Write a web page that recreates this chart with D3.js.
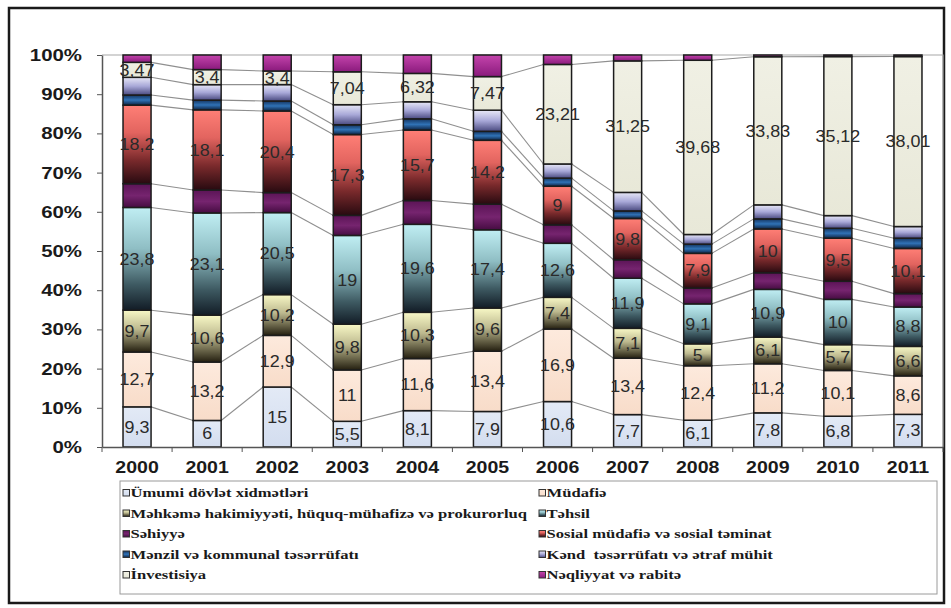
<!DOCTYPE html>
<html>
<head>
<meta charset="utf-8">
<script src="https://cdn.jsdelivr.net/npm/d3@7"></script>
<style>
  html, body { margin: 0; padding: 0; background: #fff; }
  svg { display: block; }
  .legend-text { font-family: "Liberation Serif", "Times New Roman", serif; font-weight: bold; }
</style>
</head>
<body>
<svg id="chart" width="951" height="608"></svg>
<script>
// Budget expenditure structure by function, 2000-2011 (shares, normalized to 100%)
const years = ["2000","2001","2002","2003","2004","2005","2006","2007","2008","2009","2010","2011"];

const umumi       = [9.3, 6, 15, 5.5, 8.1, 7.9, 10.6, 7.7, 6.1, 7.8, 6.8, 7.3];
const mudafie     = [12.7, 13.2, 12.9, 11, 11.6, 13.4, 16.9, 13.4, 12.4, 11.2, 10.1, 8.6];
const mehkeme     = [9.7, 10.6, 10.2, 9.8, 10.3, 9.6, 7.4, 7.1, 5, 6.1, 5.7, 6.6];
const tehsil      = [23.8, 23.1, 20.5, 19, 19.6, 17.4, 12.6, 11.9, 9.1, 10.9, 10, 8.8];
const sehiyye     = [5.5, 5.2, 5.0, 4.3, 5.3, 5.7, 4.3, 4.4, 3.6, 3.8, 4.0, 3.0];
const sosial      = [18.2, 18.1, 20.4, 17.3, 15.7, 14.2, 9, 9.8, 7.9, 10, 9.5, 10.1];
const menzil      = [2.35, 2.2, 2.5, 2.1, 2.5, 2.0, 1.9, 1.8, 2.1, 2.3, 2.2, 2.3];
const kend        = [4.1, 3.5, 4.1, 4.3, 3.8, 4.7, 3.3, 4.4, 2.2, 3.2, 2.8, 2.6];
const investisiya = [3.47, 3.4, 3.4, 7.04, 6.32, 7.47, 23.21, 31.25, 39.68, 33.83, 35.12, 38.01];
const neqliyyat   = [1.7, 3.3, 4.0, 3.6, 4.1, 4.8, 2.2, 1.4, 1.2, 0.4, 0.35, 0.35];

const seriesNames = [
  "Ümumi dövlət xidmətləri",
  "Müdafiə",
  "Məhkəmə hakimiyyəti, hüquq-mühafizə və prokurorluq",
  "Təhsil",
  "Səhiyyə",
  "Sosial müdafiə və sosial təminat",
  "Mənzil və kommunal təsərrüfatı",
  "Kənd  təsərrüfatı və ətraf mühit",
  "İnvestisiya",
  "Nəqliyyat və rabitə"
];
const seriesValues = [umumi, mudafie, mehkeme, tehsil, sehiyye, sosial, menzil, kend, investisiya, neqliyyat];
// series whose values are printed on the bars
const labelled = [true, true, true, true, false, true, false, false, true, false];

const yTicks = [0, 0.1, 0.2, 0.3, 0.4, 0.5, 0.6, 0.7, 0.8, 0.9, 1];

// gradient fills (top -> bottom) for each series
const fills = [
  [[0, "#e3eaf6"], [1, "#d3ddef"]],
  [[0, "#fdeadd"], [1, "#f8dcc9"]],
  [[0, "#f8f8c6"], [0.45, "#bdb98f"], [1, "#241f10"]],
  [[0, "#c0eef3"], [0.4, "#8fbec4"], [0.75, "#3e5a62"], [1, "#121c26"]],
  [[0, "#5b1456"], [0.5, "#76246f"], [1, "#460c42"]],
  [[0, "#ff7f76"], [0.35, "#e2645f"], [0.7, "#7a2a2c"], [1, "#280a10"]],
  [[0, "#14345f"], [0.5, "#3072b6"], [1, "#0d2444"]],
  [[0, "#e8e8f7"], [0.5, "#a8a8d8"], [1, "#4a4a80"]],
  [[0, "#f0f0e4"], [1, "#e8e8d8"]],
  [[0, "#c444ac"], [1, "#8a1a7c"]]
];

const svg = d3.select("#chart");
const plot = { left: 102, right: 943, top: 55, bottom: 447 };

// gradients
const defs = svg.append("defs");
fills.forEach((stops, k) => {
  const g = defs.append("linearGradient")
    .attr("id", "fill" + k)
    .attr("x1", 0).attr("y1", 0).attr("x2", 0).attr("y2", 1);
  stops.forEach(([o, c]) => g.append("stop").attr("offset", o).attr("stop-color", c));
});

// outer frame
svg.append("rect")
  .attr("x", 9).attr("y", 8).attr("width", 935).attr("height", 595)
  .attr("fill", "#fff").attr("stroke", "#1a1a1a").attr("stroke-width", 2.5);

const table = years.map((yr, i) => ({ year: yr, vals: seriesValues.map(s => s[i]) }));
const stacked = d3.stack()
  .keys(d3.range(seriesValues.length))
  .value((d, k) => d.vals[k])
  .offset(d3.stackOffsetExpand)(table);

const x = d3.scaleBand().domain(years).range([plot.left, plot.right])
  .paddingInner(0.6).paddingOuter(0.3);
const y = d3.scaleLinear().domain([0, 1]).range([plot.bottom, plot.top]);
const bw = x.bandwidth();

// plot area frame (top and right)
svg.append("path")
  .attr("d", `M${plot.left},${plot.top}H${plot.right}V${plot.bottom}`)
  .attr("fill", "none").attr("stroke", "#a8a8a8").attr("stroke-width", 1.2);

// series lines joining segment tops of neighbouring bars
const lines = svg.append("g").attr("stroke", "#8f8f8f").attr("stroke-width", 1.1).attr("fill", "none");
stacked.slice(0, stacked.length - 1).forEach(layer => {
  for (let i = 0; i < years.length - 1; i++) {
    lines.append("line")
      .attr("x1", x(years[i]) + bw).attr("y1", y(layer[i][1]))
      .attr("x2", x(years[i + 1])).attr("y2", y(layer[i + 1][1]));
  }
});

// bars
const layers = svg.append("g").selectAll("g").data(stacked).join("g")
  .attr("fill", d => `url(#fill${d.key})`);
layers.selectAll("rect").data(d => d).join("rect")
  .attr("x", d => x(d.data.year))
  .attr("y", d => y(d[1]))
  .attr("width", bw)
  .attr("height", d => y(d[0]) - y(d[1]))
  .attr("stroke", "#1c1c1c").attr("stroke-width", 1.5);

// value labels
const fmt = v => String(v).replace(".", ",");
const lab = svg.append("g")
  .attr("font-family", "Liberation Sans, Arial, sans-serif")
  .attr("font-size", 16).attr("fill", "#2a2a2a").attr("text-anchor", "middle");
stacked.forEach(layer => {
  if (!labelled[layer.key]) return;
  layer.forEach((d, i) => {
    const cx = x(d.data.year) + bw / 2;
    const cy = (y(d[0]) + y(d[1])) / 2;
    lab.append("text")
      .attr("transform", `translate(${cx},${cy}) scale(1.12,1)`)
      .attr("dy", "0.36em")
      .text(fmt(seriesValues[layer.key][i]));
  });
});

// y axis
const yAxis = svg.append("g").attr("transform", `translate(${plot.left},0)`)
  .call(d3.axisLeft(y).tickValues(yTicks).tickFormat(d3.format(".0%")).tickSize(5).tickSizeOuter(0));
yAxis.select(".domain").attr("stroke", "#555").attr("stroke-width", 1.5);
yAxis.selectAll(".tick line").attr("stroke", "#555");
yAxis.selectAll(".tick text")
  .attr("font-family", "Liberation Sans, Arial, sans-serif")
  .attr("font-weight", "bold").attr("font-size", 17).attr("fill", "#1a1a1a")
  .attr("x", -20 / 1.2).attr("transform", "scale(1.2,1)");

// x axis
const xAxis = svg.append("g").attr("transform", `translate(0,${plot.bottom})`)
  .call(d3.axisBottom(x).tickSize(0).tickSizeOuter(0));
xAxis.select(".domain").attr("stroke", "#555").attr("stroke-width", 1.5);
xAxis.selectAll(".tick text")
  .attr("font-family", "Liberation Sans, Arial, sans-serif")
  .attr("font-weight", "bold").attr("font-size", 17).attr("fill", "#1a1a1a")
  .attr("y", 14).attr("transform", "scale(1.15,1)");
// small ticks between categories
const step = x.step();
xAxis.selectAll(".sep").data(d3.range(years.length + 1)).join("line")
  .attr("x1", i => plot.left + i * step).attr("x2", i => plot.left + i * step)
  .attr("y1", 0).attr("y2", 5).attr("stroke", "#555");

// legend
const leg = { x: 120, y: 481, w: 817, h: 113 };
svg.append("rect")
  .attr("x", leg.x).attr("y", leg.y).attr("width", leg.w).attr("height", leg.h)
  .attr("fill", "#fff").attr("stroke", "#9a9a9a").attr("stroke-width", 1);
const colX = [123, 539];
const rowY = [493, 513.5, 534, 554.5, 575];
const items = svg.append("g").selectAll("g").data(seriesNames).join("g")
  .attr("transform", (d, i) => `translate(${colX[i % 2]},${rowY[Math.floor(i / 2)]})`);
items.append("rect")
  .attr("x", 0).attr("y", -3.5).attr("width", 6.5).attr("height", 6.5)
  .attr("fill", (d, i) => `url(#fill${i})`).attr("stroke", "#333").attr("stroke-width", 1);
items.append("text")
  .attr("class", "legend-text")
  .attr("transform", "translate(7.5,0) scale(1.33,1)")
  .attr("dy", "0.35em")
  .attr("font-size", 12.5).attr("fill", "#1a1a1a")
  .attr("xml:space", "preserve")
  .text(d => d);
</script>
</body>
</html>
